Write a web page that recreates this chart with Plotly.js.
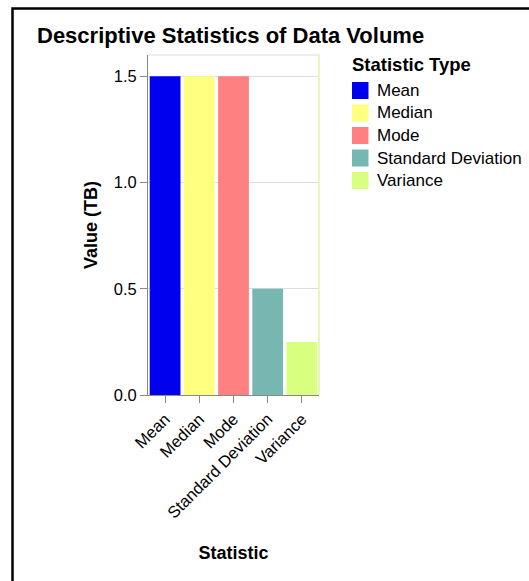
<!DOCTYPE html>
<html>
<head>
<meta charset="utf-8">
<script src="https://cdn.plot.ly/plotly-3.0.1.min.js"></script>
<style>html,body{margin:0;padding:0;background:#fff;}#chart{width:529px;height:581px;}</style>
</head>
<body>
<div id="chart"></div>
<script>
// ---- data ----
const categories = ["Mean", "Median", "Mode", "Standard Deviation", "Variance"];
const values = [1.5, 1.5, 1.5, 0.5, 0.25];
const colors = ["#0000ee", "#ffff80", "#ff8080", "#76b7b2", "#d9ff80"];
const yTickVals = [0, 0.5, 1.0, 1.5];
const chartTitle = "Descriptive Statistics of Data Volume";
const xTitle = "Statistic";
const yTitle = "Value (TB)";
const legendTitle = "Statistic Type";

// ---- layout geometry (pixels) ----
const W = 529, H = 581;
const PL = 148, PR = 319, PT = 55, PB = 395;
const px = x => (x - PL) / (PR - PL);
const py = y => (PB - y) / (PB - PT);
const FONT = "Arial, 'Liberation Sans', sans-serif";

const trace = {
  type: "bar",
  x: categories,
  y: values,
  marker: {color: colors, line: {width: 0}},
  showlegend: false,
  hoverinfo: "x+y"
};

const shapes = [
  // outer black frame
  {type: "rect", xref: "paper", yref: "paper", x0: px(12.5), x1: px(700), y0: py(8.5), y1: py(800),
   line: {color: "#000", width: 2.5}, fillcolor: "rgba(0,0,0,0)", layer: "above"},
  // plot frame top & right
  {type: "line", xref: "paper", yref: "paper", x0: 0, x1: 1, y0: 1, y1: 1, line: {color: "#dddddd", width: 1}},
  {type: "line", xref: "paper", yref: "paper", x0: 1, x1: 1, y0: 0, y1: 1, line: {color: "#dff5a0", width: 1.5}}
];
const annotations = [
  {xref: "paper", yref: "paper", x: px(350), y: py(64), xanchor: "left", yanchor: "middle",
   text: "<b>" + legendTitle + "</b>", showarrow: false, font: {family: FONT, size: 18.5, color: "#000"}}
];
categories.forEach((c, i) => {
  const cy = 90.5 + i * 22.5;
  shapes.push({type: "rect", xref: "paper", yref: "paper",
    x0: px(352), x1: px(368.5), y0: py(cy - 8.5), y1: py(cy + 8.5),
    fillcolor: colors[i], line: {width: 0}});
  annotations.push({xref: "paper", yref: "paper", x: px(374.5), y: py(cy), xanchor: "left", yanchor: "middle",
    text: c, showarrow: false, font: {family: FONT, size: 17, color: "#000"}});
});

const layout = {
  width: W, height: H,
  margin: {l: PL, r: W - PR, t: PT, b: H - PB, pad: 0},
  paper_bgcolor: "#fff", plot_bgcolor: "#fff",
  font: {family: FONT, color: "#000"},
  title: {text: "<b>" + chartTitle + "</b>", x: 37 / W, xanchor: "left", xref: "container",
          y: 1 - 35 / H, yanchor: "middle", yref: "container", font: {family: FONT, size: 22, color: "#000"}},
  bargap: 0.1,
  xaxis: {
    type: "category", range: [-0.5, categories.length - 0.5],
    tickangle: -45, ticks: "outside", ticklen: 7, tickcolor: "#888", tickwidth: 1,
    showline: true, linecolor: "#888", linewidth: 1, showgrid: false, zeroline: false,
    tickfont: {family: FONT, size: 16.5, color: "#000"},
    title: {text: "<b>" + xTitle + "</b>", font: {family: FONT, size: 18, color: "#000"}, standoff: 25}
  },
  yaxis: {
    range: [0, 1.6], tickvals: yTickVals, tickformat: ".1f",
    ticks: "outside", ticklen: 7, tickcolor: "#888", tickwidth: 1,
    showline: true, linecolor: "#888", linewidth: 1,
    showgrid: true, gridcolor: "#dddddd", gridwidth: 1, zeroline: false,
    tickfont: {family: FONT, size: 16.5, color: "#000"},
    title: {text: "<b>" + yTitle + "</b>", font: {family: FONT, size: 18, color: "#000"}, standoff: 11}
  },
  shapes: shapes,
  annotations: annotations
};

Plotly.newPlot("chart", [trace], layout, {displayModeBar: false, staticPlot: true});
</script>
</body>
</html>
